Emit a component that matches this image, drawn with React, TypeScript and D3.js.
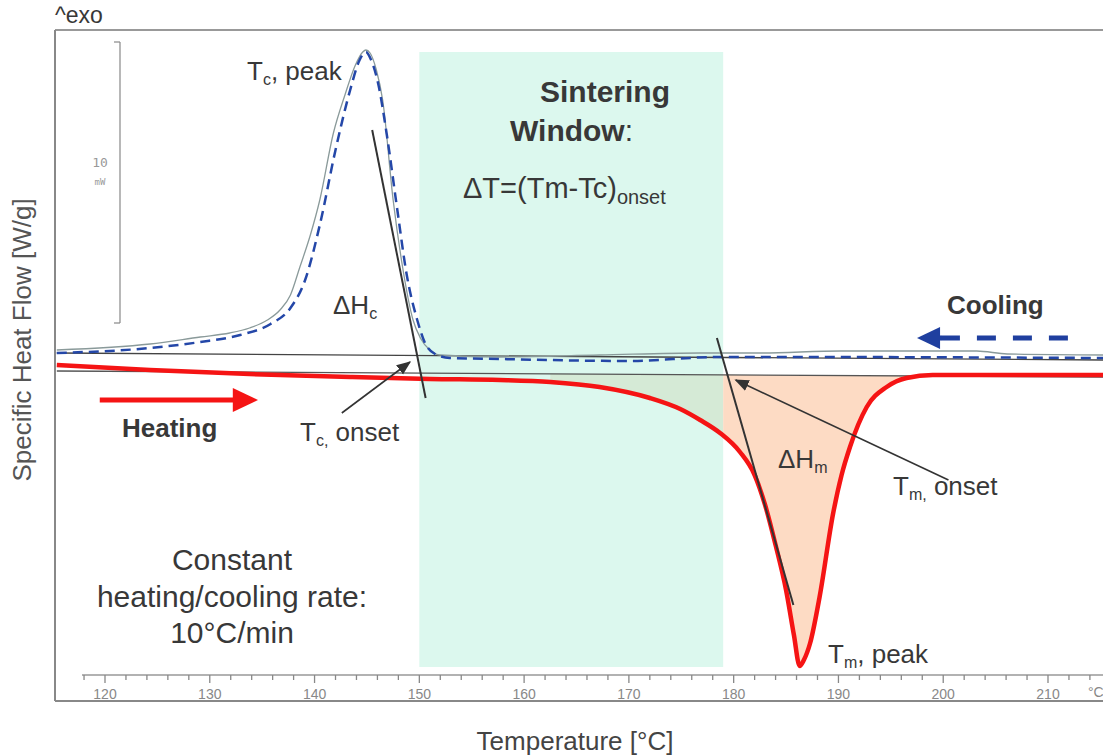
import React from "react";
import * as d3 from "d3";

const W = 1103;
const H = 755;

// temperature axis labels [°C]
const tickLabels = [120, 130, 140, 150, 160, 170, 180, 190, 200, 210];

// cooling run, thin grey trace: [°C, W/g]
const coolingGrey: [number, number][] = [
  [115.4, 0.15], [124.3, 0.21], [129.1, 0.28], [131.9, 0.32], [133.8, 0.37],
  [135.5, 0.45], [136.7, 0.55], [137.7, 0.7], [138.6, 0.98], [139.6, 1.3],
  [140.5, 1.65], [141.8, 2.32], [142.9, 2.7], [143.9, 3.0], [144.6, 3.13],
  [144.9, 3.15], [145.3, 3.12], [145.9, 2.95], [146.5, 2.65], [147.5, 1.65],
  [148.4, 0.98], [149.4, 0.45], [150.1, 0.27], [151.0, 0.15], [152.0, 0.1],
  [157.7, 0.08], [167.2, 0.1], [176.8, 0.12], [182.5, 0.12], [190.2, 0.14],
  [203.2, 0.14], [206.1, 0.11], [215.3, 0.1],
];

// cooling run, blue dashed trace
const coolingBlue: [number, number][] = [
  [115.4, 0.12], [124.3, 0.17], [129.1, 0.23], [132.9, 0.3], [135.8, 0.41],
  [137.7, 0.57], [139.1, 0.85], [140.5, 1.4], [142.0, 2.15], [143.4, 2.75],
  [144.3, 3.05], [144.9, 3.13], [145.4, 3.05], [146.1, 2.8], [146.9, 2.3],
  [147.9, 1.55], [148.8, 0.9], [149.8, 0.45], [150.5, 0.23], [151.5, 0.11],
  [152.9, 0.07], [157.7, 0.06], [169.8, 0.04], [178.7, 0.08], [186.3, 0.08],
  [215.3, 0.07],
];

// heating run, red trace
const heating: [number, number][] = [
  [115.4, 0.0], [124.3, -0.05], [133.8, -0.09], [143.4, -0.12], [151.0, -0.14],
  [157.7, -0.15], [162.5, -0.17], [167.2, -0.22], [172.0, -0.33], [174.9, -0.44],
  [176.8, -0.55], [178.7, -0.68], [180.6, -0.87], [182.0, -1.1], [183.0, -1.4],
  [184.0, -1.8], [185.0, -2.25], [185.75, -2.7], [186.3, -3.01], [186.7, -2.95],
  [187.3, -2.78], [188.2, -2.32], [189.5, -1.48], [190.3, -1.1], [191.1, -0.82],
  [192.7, -0.42], [194.6, -0.22], [196.5, -0.13], [199.0, -0.1], [205.4, -0.1],
  [215.3, -0.1],
];

// baselines (start, end)
const coolBase: [number, number][] = [[115.4, 0.12], [215.3, 0.05]];
const heatBase: [number, number][] = [[115.4, -0.06], [215.3, -0.12]];

// onset tangents
const tcTangent: [number, number][] = [[145.5, 2.35], [150.6, -0.33]];
const tmTangent: [number, number][] = [[178.4, 0.27], [185.7, -2.4]];

// onset pointer arrows (from, to)
const tcArrow: [number, number][] = [[142.6, -0.48], [149.1, 0.03]];
const tmArrow: [number, number][] = [[200.5, -1.15], [180.2, -0.15]];

// sintering window and melt integration range [°C]
const windowRange = [150, 179];
const meltRange = [160.5, 198];

const x = d3.scaleLinear().domain([120, 210]).range([105, 1048]);
const y = d3.scaleLinear().domain([-3, 3]).range([665, 65]);

const line = d3
  .line<[number, number]>()
  .x((d) => x(d[0]))
  .y((d) => y(d[1]))
  .curve(d3.curveMonotoneX);

const baseAt = (t: number) =>
  heatBase[0][1] +
  ((t - heatBase[0][0]) / (heatBase[1][0] - heatBase[0][0])) *
    (heatBase[1][1] - heatBase[0][1]);

const meltArea = d3
  .area<[number, number]>()
  .x((d) => x(d[0]))
  .y0((d) => y(baseAt(d[0])))
  .y1((d) => y(d[1]))
  .curve(d3.curveMonotoneX);

const FONT = "'Liberation Sans', Arial, sans-serif";
const TXT = "#383838";

const App = () => {
  const minorTicks = d3.range(118, 216, 2);
  const meltPts = heating.filter((d) => d[0] >= meltRange[0] && d[0] <= meltRange[1]);
  const wx0 = x(windowRange[0]);
  const wx1 = x(windowRange[1]);

  const arrowPath = (p: [number, number][]) =>
    `M${x(p[0][0])},${y(p[0][1])}L${x(p[1][0])},${y(p[1][1])}`;

  const hy = y(-0.35);
  const cy = y(0.27);

  return (
    <svg
      width={W}
      height={H}
      style={{ position: "absolute", left: 0, top: 0, background: "#fff" }}
      fontFamily={FONT}
    >
      <defs>
        <clipPath id="inWin">
          <rect x={0} y={0} width={wx1} height={H} />
        </clipPath>
        <clipPath id="outWin">
          <rect x={wx1} y={0} width={W - wx1} height={H} />
        </clipPath>
        <marker id="head" viewBox="0 0 10 10" refX="9" refY="5" markerWidth="9" markerHeight="9" orient="auto">
          <path d="M0,1L10,5L0,9Z" fill="#333" />
        </marker>
      </defs>

      {/* frame */}
      <line x1={55} y1={30} x2={W} y2={30} stroke="#999" strokeWidth={2} />
      <line x1={55} y1={30} x2={55} y2={701} stroke="#888" strokeWidth={2} />
      <line x1={55} y1={701} x2={W} y2={701} stroke="#888" strokeWidth={2} />
      <text x={55} y={23} fontSize={23} fill={TXT}>^exo</text>

      {/* sintering window */}
      <rect x={wx0} y={y(3.13)} width={wx1 - wx0} height={y(-3.02) - y(3.13)} fill="#dcf8ee" />

      {/* melt enthalpy fill */}
      <path d={meltArea(meltPts) || ""} fill="#d5ead6" clipPath="url(#inWin)" />
      <path d={meltArea(meltPts) || ""} fill="#fddbc4" clipPath="url(#outWin)" />

      {/* scale bar */}
      <g stroke="#888" strokeWidth={1.2} fill="none">
        <line x1={120} y1={42} x2={120} y2={323} />
        <line x1={114} y1={42} x2={120} y2={42} />
        <line x1={114} y1={323} x2={120} y2={323} />
      </g>
      <text x={100} y={167} fontSize={13} fill="#999" fontFamily="'DejaVu Sans Mono', monospace" textAnchor="middle">10</text>
      <text x={100} y={185} fontSize={9} fill="#999" fontFamily="'DejaVu Sans Mono', monospace" textAnchor="middle">mW</text>

      {/* baselines */}
      <path d={line(coolBase) || ""} stroke="#444" strokeWidth={1.3} fill="none" />
      <path d={line(heatBase) || ""} stroke="#555" strokeWidth={1.3} fill="none" />

      {/* curves */}
      <path d={line(coolingGrey) || ""} stroke="#8a9a9a" strokeWidth={1.3} fill="none" />
      <path d={line(coolingBlue) || ""} stroke="#2447a8" strokeWidth={2.5} strokeDasharray="10 6" fill="none" />
      <path d={line(heating) || ""} stroke="#f51414" strokeWidth={4.5} fill="none" strokeLinejoin="round" />

      {/* tangents */}
      <path d={line(tcTangent) || ""} stroke="#333" strokeWidth={2} />
      <path d={line(tmTangent) || ""} stroke="#333" strokeWidth={2} />

      {/* onset pointers */}
      <path d={arrowPath(tcArrow)} stroke="#333" strokeWidth={1.6} markerEnd="url(#head)" />
      <path d={arrowPath(tmArrow)} stroke="#333" strokeWidth={1.6} markerEnd="url(#head)" />

      {/* heating arrow */}
      <line x1={x(119.5)} y1={hy} x2={x(132.4)} y2={hy} stroke="#f51414" strokeWidth={5} />
      <path d={`M${x(132.2)},${hy - 12}L${x(134.6)},${hy}L${x(132.2)},${hy + 12}Z`} fill="#f51414" />
      <text x={122} y={437} fontSize={26} fontWeight="bold" fill={TXT}>Heating</text>

      {/* cooling arrow */}
      <line x1={x(211.9)} y1={cy} x2={x(199.2)} y2={cy} stroke="#1f3f9f" strokeWidth={5} strokeDasharray="19 17" />
      <line x1={x(199.8)} y1={cy} x2={x(198.6)} y2={cy} stroke="#1f3f9f" strokeWidth={5} />
      <path d={`M${x(199.7)},${cy - 11}L${x(197.5)},${cy}L${x(199.7)},${cy + 11}Z`} fill="#1f3f9f" />
      <text x={947} y={314} fontSize={26} fontWeight="bold" fill={TXT}>Cooling</text>

      {/* labels */}
      <g fill={TXT} fontSize={26}>
        <text x={247} y={80}>T<tspan fontSize={16} dy={5}>c</tspan><tspan dy={-5}>, peak</tspan></text>
        <text x={333} y={314}>ΔH<tspan fontSize={16} dy={5}>c</tspan></text>
        <text x={300} y={441}>T<tspan fontSize={16} dy={5}>c,</tspan><tspan dy={-5}> onset</tspan></text>
        <text x={778} y={468}>ΔH<tspan fontSize={16} dy={5}>m</tspan></text>
        <text x={893} y={495}>T<tspan fontSize={16} dy={5}>m,</tspan><tspan dy={-5}> onset</tspan></text>
        <text x={828} y={663}>T<tspan fontSize={16} dy={5}>m</tspan><tspan dy={-5}>, peak</tspan></text>
      </g>

      <text x={540} y={102} fontSize={30} fontWeight="bold" fill={TXT}>Sintering</text>
      <text x={510} y={141} fontSize={30} fill={TXT}><tspan fontWeight="bold">Window</tspan>:</text>
      <text x={463} y={198} fontSize={29} fill={TXT}>ΔT=(Tm-Tc)<tspan fontSize={20} dy={6}>onset</tspan></text>

      <g fill={TXT} fontSize={30} textAnchor="middle">
        <text x={232} y={570}>Constant</text>
        <text x={232} y={607}>heating/cooling rate:</text>
        <text x={232} y={643}>10°C/min</text>
      </g>

      {/* temperature ruler */}
      <line x1={82} y1={675} x2={W} y2={675} stroke="#999" strokeWidth={1.5} />
      {minorTicks.map((t) => (
        <line key={t} x1={x(t)} y1={675} x2={x(t)} y2={t % 10 === 0 ? 683 : 680} stroke="#888" strokeWidth={1.3} />
      ))}
      {tickLabels.map((t) => (
        <text key={t} x={x(t)} y={699} fontSize={14} fill="#888" textAnchor="middle">{t}</text>
      ))}
      <text x={1088} y={697} fontSize={14} fill="#888">°C</text>

      {/* axis titles */}
      <text x={575} y={750} fontSize={26} fill="#444" textAnchor="middle">Temperature [°C]</text>
      <text transform="translate(31,340) rotate(-90)" fontSize={26} fill="#555" textAnchor="middle">
        Specific Heat Flow [W/g]
      </text>
    </svg>
  );
};

export default App;
